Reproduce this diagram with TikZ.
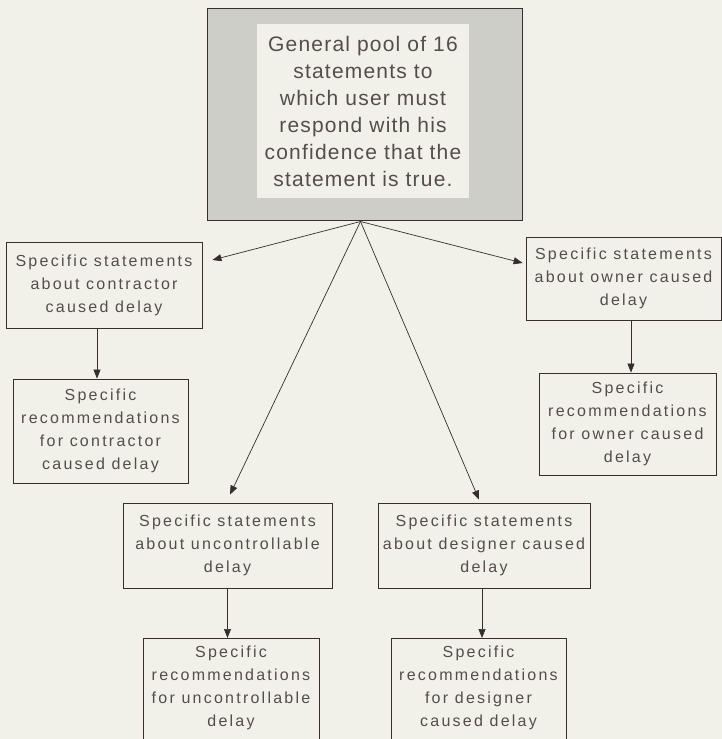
\documentclass[tikz,border=0pt]{standalone}
\usepackage{fontspec}
\usetikzlibrary{arrows.meta,calc}
\newfontfamily\bigfont[LetterSpace=5.7]{Liberation Sans}
\newfontfamily\smallfont[LetterSpace=14]{Liberation Sans}
\definecolor{bg}{RGB}{241,241,234}
\definecolor{ink}{RGB}{55,45,45}
\definecolor{shade}{RGB}{206,206,200}
\begin{document}
\begin{tikzpicture}[x=1pt,y=-1pt,
  box/.style={draw=ink, line width=0.8pt, rectangle, inner sep=0pt, align=center,
    text=ink!85, font={\smallfont\fontsize{16}{23}\selectfont}},
  txt/.style={inner sep=0pt, align=center, text=ink!85, font={\smallfont\fontsize{16}{23}\selectfont}},
  arr/.style={draw=ink, line width=0.7pt, -{Triangle[length=9pt,width=7pt]}}
]
\useasboundingbox (0,0) rectangle (722,739);
\fill[bg] (0,0) rectangle (722,739);
\clip (0,0) rectangle (722,739);

% top box
\node[draw=ink, line width=1pt, fill=shade, minimum width=315pt, minimum height=212pt, inner sep=0pt] (top) at (364.5,114) {};
\node[fill=bg, minimum width=212pt, minimum height=174pt, inner sep=0pt, align=center,
  text=ink!85, font={\bigfont\fontsize{21}{27}\selectfont}] (toptext) at (363,111)
  {General pool of 16\\statements to\\which user must\\respond with his\\confidence that the\\statement is true.};
\coordinate (hub) at ([xshift=-4pt,yshift=-1pt]top.south);

% statement boxes
\node[box, minimum width=196pt, minimum height=86pt] (contr) at (104,285)
  {Specific statements\\about contractor\\caused delay};
\node[box, minimum width=195pt, minimum height=83pt] (owner) at (623.5,278.5)
  {Specific statements\\about owner caused\\delay};
\node[box, minimum width=209pt, minimum height=85pt] (unc) at (227.5,545.5)
  {Specific statements\\about uncontrollable\\delay};
\node[box, minimum width=212pt, minimum height=85pt] (dsg) at (484,545.5)
  {Specific statements\\about designer caused\\delay};

% recommendation boxes
\node[box, minimum width=175pt, minimum height=104pt] (crec) at (100.5,431)
  {Specific\\recommendations\\for contractor\\caused delay};
\node[box, minimum width=177pt, minimum height=102pt] (orec) at (627.5,424)
  {Specific\\recommendations\\for owner caused\\delay};
\node[draw=ink, line width=0.8pt, minimum width=176pt, minimum height=140pt, inner sep=0pt, anchor=north] (urec) at (231,638) {};
\node[txt] (urectext) at (231,688)
  {Specific\\recommendations\\for uncontrollable\\delay};
\node[draw=ink, line width=0.8pt, minimum width=175pt, minimum height=140pt, inner sep=0pt, anchor=north] (drec) at (478.5,638) {};
\node[txt] (drectext) at (478.5,688)
  {Specific\\recommendations\\for designer\\caused delay};

% arrows from the general pool
\draw[arr] (hub) -- ([xshift=10pt,yshift=25pt]contr.east);
\draw[arr] (hub) -- ([xshift=-3pt,yshift=15.5pt]owner.west);
\draw[arr] (hub) -- ([xshift=2.5pt,yshift=8pt]unc.north);
\draw[arr] (hub) -- ([xshift=-5pt,yshift=3pt]dsg.north);

% arrows to recommendations
\draw[arr] ([xshift=-3.5pt]crec.north |- contr.south) -- ([xshift=-3.5pt]crec.north);
\draw[arr] ([xshift=3.5pt]orec.north |- owner.south) -- ([xshift=3.5pt]orec.north);
\draw[arr] (unc.south) -- (unc.south |- urec.north);
\draw[arr] ([xshift=-2pt]dsg.south) -- ([xshift=-2pt]dsg.south |- drec.north);
\end{tikzpicture}
\end{document}
